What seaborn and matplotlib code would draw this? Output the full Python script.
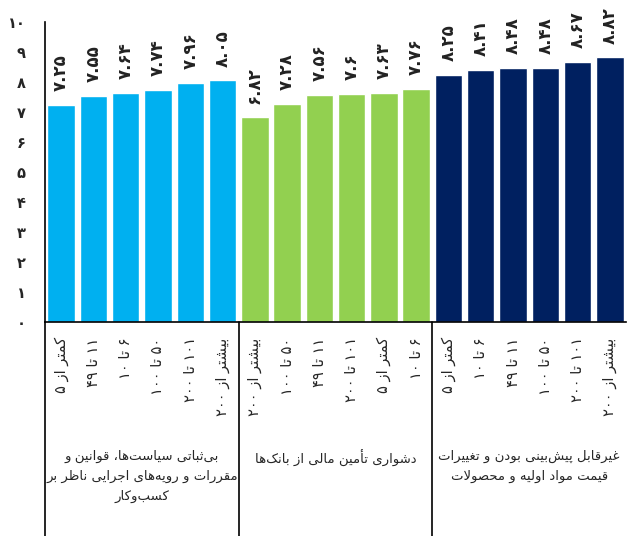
import matplotlib
matplotlib.use("Agg")
import matplotlib.pyplot as plt
import pandas as pd
import seaborn as sns

# Three groups of firm-size bars
group_names = [
    "بی‌ثباتی سیاست‌ها، قوانین و\nمقررات و رویه‌های اجرایی ناظر بر\nکسب‌وکار",
    "دشواری تأمین مالی از بانک‌ها",
    "غیرقابل پیش‌بینی بودن و تغییرات\nقیمت مواد اولیه و محصولات",
]
group_colors = ["#00B0F0", "#92D050", "#002060"]

sizes_1 = ["کمتر از ۵", "۱۱ تا ۴۹", "۶ تا ۱۰", "۵۰ تا ۱۰۰", "۱۰۱ تا ۲۰۰", "بیشتر از ۲۰۰"]
values_1 = [7.25, 7.55, 7.64, 7.74, 7.96, 8.05]

sizes_2 = ["بیشتر از ۲۰۰", "۵۰ تا ۱۰۰", "۱۱ تا ۴۹", "۱۰۱ تا ۲۰۰", "کمتر از ۵", "۶ تا ۱۰"]
values_2 = [6.82, 7.28, 7.56, 7.6, 7.63, 7.76]

sizes_3 = ["کمتر از ۵", "۶ تا ۱۰", "۱۱ تا ۴۹", "۵۰ تا ۱۰۰", "۱۰۱ تا ۲۰۰", "بیشتر از ۲۰۰"]
values_3 = [8.25, 8.41, 8.48, 8.48, 8.67, 8.82]

y_ticks = list(range(0, 11))

# ---------------------------------------------------------------------------
# Minimal Persian shaping (matplotlib has no bidi / contextual shaping)
ZWNJ = "\u200c"
# isolated, final, initial, medial
FORMS = {
    "ا": ("\uFE8D", "\uFE8E", None, None),
    "أ": ("\uFE83", "\uFE84", None, None),
    "ب": ("\uFE8F", "\uFE90", "\uFE91", "\uFE92"),
    "پ": ("\uFB56", "\uFB57", "\uFB58", "\uFB59"),
    "ت": ("\uFE95", "\uFE96", "\uFE97", "\uFE98"),
    "ث": ("\uFE99", "\uFE9A", "\uFE9B", "\uFE9C"),
    "ج": ("\uFE9D", "\uFE9E", "\uFE9F", "\uFEA0"),
    "ح": ("\uFEA1", "\uFEA2", "\uFEA3", "\uFEA4"),
    "د": ("\uFEA9", "\uFEAA", None, None),
    "ر": ("\uFEAD", "\uFEAE", None, None),
    "ز": ("\uFEAF", "\uFEB0", None, None),
    "س": ("\uFEB1", "\uFEB2", "\uFEB3", "\uFEB4"),
    "ش": ("\uFEB5", "\uFEB6", "\uFEB7", "\uFEB8"),
    "ص": ("\uFEB9", "\uFEBA", "\uFEBB", "\uFEBC"),
    "ظ": ("\uFEC5", "\uFEC6", "\uFEC7", "\uFEC8"),
    "غ": ("\uFECD", "\uFECE", "\uFECF", "\uFED0"),
    "ق": ("\uFED5", "\uFED6", "\uFED7", "\uFED8"),
    "ک": ("\uFB8E", "\uFB8F", "\uFB90", "\uFB91"),
    "ل": ("\uFEDD", "\uFEDE", "\uFEDF", "\uFEE0"),
    "م": ("\uFEE1", "\uFEE2", "\uFEE3", "\uFEE4"),
    "ن": ("\uFEE5", "\uFEE6", "\uFEE7", "\uFEE8"),
    "ه": ("\uFEE9", "\uFEEA", "\uFEEB", "\uFEEC"),
    "و": ("\uFEED", "\uFEEE", None, None),
    "ی": ("\uFBFC", "\uFBFD", "\uFBFE", "\uFBFF"),
}
DIGITS = set("۰۱۲۳۴۵۶۷۸۹0123456789.")


def _joins_next(c):
    f = FORMS.get(c)
    return f is not None and f[2] is not None


def shape_fa(text):
    lines = []
    for s in text.split("\n"):
        glyphs = []
        i = 0
        while i < len(s):
            c = s[i]
            if c == ZWNJ:
                i += 1
                continue
            if c not in FORMS:
                glyphs.append(c)
                i += 1
                continue
            prev = s[i - 1] if i > 0 else ""
            joins_prev = _joins_next(prev)
            if c == "ل" and i + 1 < len(s) and s[i + 1] == "ا":
                glyphs.append("\uFEFC" if joins_prev else "\uFEFB")
                i += 2
                continue
            nxt = s[i + 1] if i + 1 < len(s) else ""
            joins_next = _joins_next(c) and nxt in FORMS
            iso, fin, ini, med = FORMS[c]
            if joins_prev and joins_next:
                g = med
            elif joins_prev:
                g = fin
            elif joins_next:
                g = ini
            else:
                g = iso
            glyphs.append(g)
            i += 1
        # right-to-left visual order, keeping digit runs left-to-right
        out, run = [], []
        for g in glyphs[::-1]:
            if g in DIGITS:
                run.append(g)
            else:
                out.extend(run[::-1])
                run = []
                out.append(g)
        out.extend(run[::-1])
        lines.append("".join(out))
    return "\n".join(lines)


def to_fa(x):
    return str(x).translate(str.maketrans("0123456789", "۰۱۲۳۴۵۶۷۸۹"))


# ---------------------------------------------------------------------------
all_sizes = [sizes_1, sizes_2, sizes_3]
all_values = [values_1, values_2, values_3]
rows = []
for g, (sizes, vals) in enumerate(zip(all_sizes, all_values)):
    for k, (lab, v) in enumerate(zip(sizes, vals)):
        rows.append({"slot": f"{g}-{k}", "size": lab, "value": v, "group": f"g{g}"})
df = pd.DataFrame(rows)

sns.set_style("white")
plt.rcParams["font.family"] = ["DejaVu Sans"]

fig = plt.figure(figsize=(6.27, 5.36), dpi=100)
ax = fig.add_axes([45 / 627, 214 / 536, 581 / 627, 300 / 536])

sns.barplot(
    data=df, x="slot", y="value", hue="group", order=df["slot"].tolist(),
    hue_order=["g0", "g1", "g2"], palette=group_colors, dodge=False,
    width=0.85, saturation=1, legend=False, ax=ax,
)

for i, v in enumerate(df["value"]):
    ax.annotate(to_fa(f"{v:g}"), (i, v), xytext=(0, 10), textcoords="offset points",
                rotation=90, ha="center", va="bottom", fontsize=12,
                fontweight="bold", color="#222222")

ax.set_xlim(-0.5, len(df) - 0.5)
ax.set_ylim(0, 10)
ax.set_yticks(y_ticks)
ax.set_yticklabels([to_fa(t) for t in y_ticks], fontweight="bold", fontsize=10.5)
ax.set_xticks(range(len(df)))
ax.set_xticklabels([shape_fa(s) for s in df["size"]], rotation=90, fontsize=10.5)
ax.tick_params(axis="y", length=0, pad=14)
ax.tick_params(axis="x", length=0, pad=11)
ax.set_xlabel("")
ax.set_ylabel("")

sns.despine(ax=ax, top=True, right=True)
for side in ("left", "bottom"):
    ax.spines[side].set_color("black")
    ax.spines[side].set_linewidth(1.2)

# group separators and group captions under the axis
trans = ax.get_xaxis_transform()
n = len(sizes_1)
for b in [-0.5, n - 0.5, 2 * n - 0.5]:
    ax.plot([b, b], [0, -0.72], transform=trans, color="black", lw=1.2, clip_on=False)
for g, name in enumerate(group_names):
    ax.text(g * n + (n - 1) / 2, -0.425, shape_fa(name), transform=trans,
            ha="center", va="top", multialignment="center", fontsize=9.5,
            linespacing=1.7)

fig.savefig("out.png", dpi=100)
